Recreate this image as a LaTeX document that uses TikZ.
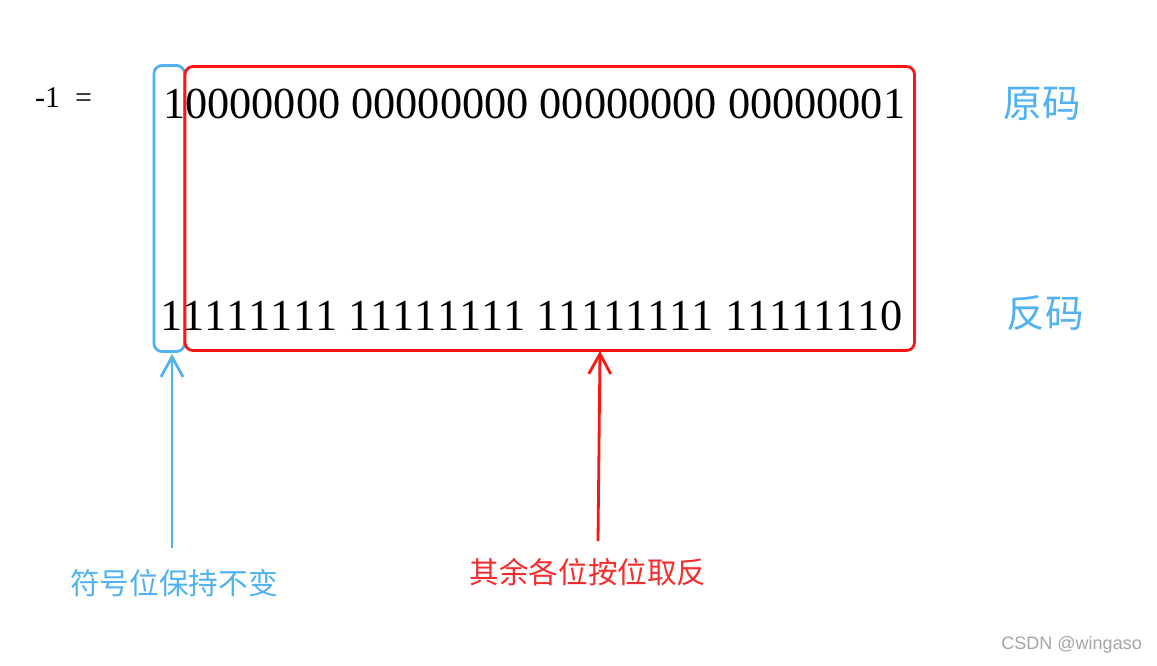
\documentclass[tikz,border=0pt]{standalone}
\usepackage{fontspec}
\setmainfont{Liberation Serif}[Kerning=Off]
\newfontfamily\cjk{Noto Sans CJK SC}
\newfontfamily\wmfont{Liberation Sans}
\usetikzlibrary{arrows.meta}
\definecolor{myblue}{RGB}{80,178,240}
\definecolor{myred}{RGB}{255,20,20}
\definecolor{redtxt}{RGB}{245,45,45}
\definecolor{wmgray}{RGB}{165,165,165}
\tikzset{
  boxbase/.style={draw, line width=2.8pt, rounded corners=8pt, inner sep=0pt, outer sep=0pt},
  bluebox/.style={boxbase, draw=myblue},
  redbox/.style={boxbase, draw=myred},
  bits/.style={anchor=base west, inner sep=0pt, font=\fontsize{44.3}{48}\selectfont},
  cjklbl/.style={inner sep=0pt, font=\cjk\fontsize{#1}{#1}\selectfont},
  pointer/.style={line width=2.8pt, -{Straight Barb[length=20pt,width=22pt,line width=2.8pt]}},
}
\begin{document}
\begin{tikzpicture}[x=1pt,y=-1pt]
\useasboundingbox[fill=white] (0,0) rectangle (1157,665);
% boxes
\node[bluebox, minimum width=30.5pt, minimum height=286pt] (sb) at (169.25,208.5) {};
\node[redbox, minimum width=729.5pt, minimum height=284pt] (rb) at (549.75,208.5) {};
% texts
\node[anchor=base west, inner sep=0pt, font=\fontsize{30}{32}\selectfont] (eq) at (35,107) {-1\hspace{15pt}=};
\node[bits] (orig) at (163,118) {10000000 00000000 00000000 00000001};
\node[bits] (inv) at (160,330) {11111111 11111111 11111111 11111110};
\node[cjklbl=38.5, text=myblue] (yuan) at (1042,104) {原码};
\node[cjklbl=38.5, text=myblue] (fan) at (1045,313) {反码};
\node[cjklbl=29.7, text=myblue] (signlbl) at (174,583) {符号位保持不变};
\node[cjklbl=29.6, text=redtxt] (restlbl) at (588,572) {其余各位按位取反};
\node[anchor=east, inner sep=0pt, text=wmgray, font=\wmfont\fontsize{18}{20}\selectfont] (wm) at (1142,645) {CSDN @wingaso};
% arrows
\coordinate (sa) at (172,548);
\coordinate (st) at (172,354);
\coordinate (ra) at (598,541);
\coordinate (rt) at (600,351);
\draw[pointer, myblue] (sa) -- (st);
\draw[pointer, myred] (ra) -- (rt);
\end{tikzpicture}
\end{document}
